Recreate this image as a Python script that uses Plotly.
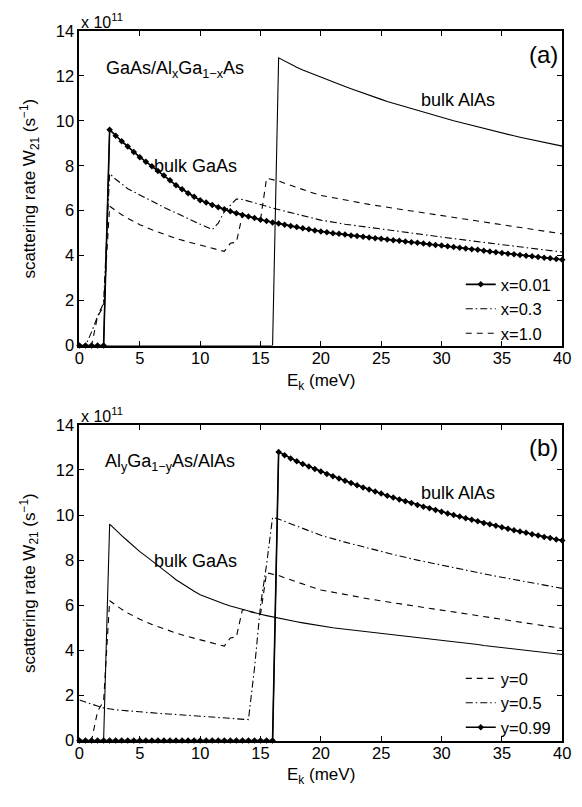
import plotly.graph_objects as go

# ---------------------------------------------------------------------------
# Intersubband scattering rate W21 versus in-plane kinetic energy E_k
# Values in units of 1e11 s^-1, energies in meV
# ---------------------------------------------------------------------------

# common energy grid (meV) for the bulk curves and the marked series
E_GRID = [0.0, 0.5, 1.0, 1.5, 2.0, 2.5, 3.0, 3.5, 4.0, 4.5, 5.0, 5.5, 6.0, 6.5,
          7.0, 7.5, 8.0, 8.5, 9.0, 9.5, 10.0, 10.5, 11.0, 11.5, 12.0, 12.5,
          13.0, 13.5, 14.0, 14.5, 15.0, 15.5, 16.0, 16.5, 17.0, 17.5, 18.0,
          18.5, 19.0, 19.5, 20.0, 20.5, 21.0, 21.5, 22.0, 22.5, 23.0, 23.5,
          24.0, 24.5, 25.0, 25.5, 26.0, 26.5, 27.0, 27.5, 28.0, 28.5, 29.0,
          29.5, 30.0, 30.5, 31.0, 31.5, 32.0, 32.5, 33.0, 33.5, 34.0, 34.5,
          35.0, 35.5, 36.0, 36.5, 37.0, 37.5, 38.0, 38.5, 39.0, 39.5, 40.0]

# bulk GaAs: threshold near 2 meV
W_BULK_GAAS = [0.0, 0.0, 0.0, 0.0, 0.0,
               9.60, 9.33, 9.09, 8.85, 8.61, 8.38, 8.18, 7.98, 7.77, 7.56,
               7.35, 7.13, 6.95, 6.78, 6.62, 6.47, 6.36, 6.25, 6.15, 6.06,
               5.97, 5.89, 5.81, 5.74, 5.67, 5.60, 5.54, 5.48, 5.43, 5.37,
               5.32, 5.27, 5.22, 5.17, 5.12, 5.07, 5.04, 5.00, 4.97, 4.94,
               4.90, 4.87, 4.84, 4.81, 4.78, 4.75, 4.72, 4.69, 4.66, 4.63,
               4.60, 4.57, 4.54, 4.51, 4.48, 4.45, 4.42, 4.39, 4.35, 4.32,
               4.29, 4.26, 4.22, 4.19, 4.15, 4.12, 4.09, 4.06, 4.03, 4.00,
               3.97, 3.94, 3.91, 3.88, 3.85, 3.82]

# bulk AlAs: threshold near 16 meV
W_BULK_ALAS = [0.0] * 33 + [
    12.80, 12.65, 12.51, 12.38, 12.26, 12.15, 12.04,
    11.93, 11.82, 11.72, 11.62, 11.52, 11.42, 11.32, 11.22, 11.13, 11.04,
    10.95, 10.86, 10.78, 10.69, 10.61, 10.53, 10.45, 10.37, 10.30, 10.22,
    10.15, 10.07, 10.00, 9.93, 9.86, 9.79, 9.72, 9.65, 9.59, 9.52,
    9.46, 9.39, 9.33, 9.27, 9.21, 9.15, 9.09, 9.03, 8.98, 8.92,
    8.87]

# (a) GaAs/AlxGa1-xAs, x = 0.01 follows bulk GaAs
W_X001 = list(W_BULK_GAAS)

# (a) x = 0.3
E_X03 = [0.0, 0.5, 1.0, 1.5, 2.0, 2.5, 3.0, 3.5, 4.0, 5.0, 6.0, 7.0, 8.0, 9.0,
         10.0, 11.0, 11.5, 12.0, 12.5, 13.0, 13.5, 14.0, 15.0, 16.0, 17.0,
         18.0, 19.0, 20.0, 22.0, 24.0, 26.0, 28.0, 30.0, 32.0, 34.0, 36.0,
         38.0, 40.0]
W_X03 = [0.0, 0.0, 0.6, 1.3, 1.9, 7.65, 7.40, 7.18, 6.98, 6.70, 6.42, 6.15,
         5.90, 5.64, 5.40, 5.16, 5.45, 5.95, 6.25, 6.52, 6.50, 6.42, 6.27,
         6.12, 5.98, 5.85, 5.72, 5.58, 5.40, 5.25, 5.11, 4.97, 4.83, 4.69,
         4.55, 4.41, 4.28, 4.16]

# x = 1.0 in (a), identical well to y = 0 in (b): GaAs/AlAs
E_X10 = [0.0, 0.5, 1.0, 1.5, 2.0, 2.5, 3.0, 3.5, 4.0, 5.0, 6.0, 7.0, 8.0, 9.0,
         10.0, 11.0, 12.0, 12.5, 13.0, 13.5, 14.0, 14.5, 15.0, 15.5, 16.0,
         16.5, 17.0, 18.0, 19.0, 20.0, 22.0, 24.0, 26.0, 28.0, 30.0, 32.0,
         34.0, 36.0, 38.0, 40.0]
W_X10 = [0.0, 0.0, 0.0, 1.3, 1.75, 6.20, 6.00, 5.82, 5.66, 5.38, 5.15, 4.95,
         4.77, 4.61, 4.46, 4.32, 4.19, 4.55, 4.60, 5.81, 5.74, 5.67, 5.60,
         7.44, 7.38, 7.32, 7.22, 7.02, 6.85, 6.68, 6.47, 6.28, 6.11, 5.95,
         5.79, 5.62, 5.45, 5.28, 5.12, 4.97]
E_Y0 = E_X10
W_Y0 = W_X10

# (b) AlyGa1-yAs/AlAs, y = 0.5
E_Y05 = [0.0, 0.5, 1.0, 1.5, 2.0, 2.5, 3.0, 4.0, 5.0, 6.0, 7.0, 8.0, 9.0,
         10.0, 11.0, 12.0, 13.0, 14.0, 14.5, 15.0, 15.5, 16.0, 16.5, 17.0,
         18.0, 19.0, 20.0, 22.0, 24.0, 26.0, 28.0, 30.0, 32.0, 34.0, 36.0,
         38.0, 40.0]
W_Y05 = [1.80, 1.70, 1.62, 1.53, 1.45, 1.40, 1.37, 1.32, 1.27, 1.23, 1.19,
         1.16, 1.12, 1.08, 1.04, 1.01, 0.97, 0.93, 3.20, 6.00, 7.80, 9.90,
         9.82, 9.72, 9.50, 9.30, 9.10, 8.80, 8.52, 8.25, 8.00, 7.77, 7.55,
         7.34, 7.14, 6.94, 6.75]

# (b) y = 0.99 follows bulk AlAs
W_Y099 = list(W_BULK_ALAS)

assert len(W_BULK_GAAS) == len(E_GRID)
assert len(W_BULK_ALAS) == len(E_GRID)
assert len(W_X03) == len(E_X03)
assert len(W_X10) == len(E_X10)
assert len(W_Y05) == len(E_Y05)

X_TICKS = [0, 5, 10, 15, 20, 25, 30, 35, 40]
Y_TICKS = [0, 2, 4, 6, 8, 10, 12, 14]

# ---------------------------------------------------------------------------
FIG_W, FIG_H = 582, 807
FONT = "Liberation Sans, Arial, Helvetica, sans-serif"
TXT = 18


def px_x(px):
    return px / FIG_W


def px_y(py):
    return 1 - py / FIG_H


X_DOM = [px_x(76.3), px_x(571)]
Y_DOM_A = [px_y(344.3), px_y(22.3)]
Y_DOM_B = [px_y(748.3), px_y(425.3)]

DASH = "6px,5px"
DASHDOT = "7px,3px,1.5px,3px"

fig = go.Figure()


def line(x, y, xa, ya, dash="solid", width=1.1, name=None, legend=None,
         rank=None, markers=False):
    kw = dict(x=x, y=y, xaxis=xa, yaxis=ya,
              line=dict(color="black", width=width, dash=dash),
              cliponaxis=False, hoverinfo="skip")
    if markers:
        kw["mode"] = "lines+markers"
        kw["marker"] = dict(symbol="diamond", size=5, color="black")
    else:
        kw["mode"] = "lines"
    if name is None:
        kw["showlegend"] = False
    else:
        kw["name"] = name
        kw["legend"] = legend
        kw["legendrank"] = rank
    fig.add_trace(go.Scatter(**kw))


# panel (a)
line(E_GRID, W_BULK_GAAS, "x", "y")
line(E_GRID, W_BULK_ALAS, "x", "y")
line(E_X10, W_X10, "x", "y", dash=DASH, name="x=1.0", legend="legend", rank=3)
line(E_X03, W_X03, "x", "y", dash=DASHDOT, name="x=0.3", legend="legend", rank=2)
line(E_GRID, W_X001, "x", "y", width=1.6, name="x=0.01", legend="legend",
     rank=1, markers=True)

# panel (b)
line(E_GRID, W_BULK_GAAS, "x2", "y2")
line(E_GRID, W_BULK_ALAS, "x2", "y2")
line(E_Y0, W_Y0, "x2", "y2", dash=DASH, name="y=0", legend="legend2", rank=1)
line(E_Y05, W_Y05, "x2", "y2", dash=DASHDOT, name="y=0.5", legend="legend2",
     rank=2)
line(E_GRID, W_Y099, "x2", "y2", width=1.6, name="y=0.99", legend="legend2",
     rank=3, markers=True)

axis_common = dict(
    showline=True, linewidth=2, linecolor="black", mirror="ticks",
    ticks="inside", ticklen=5, tickwidth=1, tickcolor="black",
    showgrid=False, zeroline=False,
    tickfont=dict(family=FONT, size=16.5, color="black"),
)

legend_common = dict(xanchor="left", yanchor="top",
                     bgcolor="rgba(0,0,0,0)", borderwidth=0,
                     font=dict(family=FONT, size=16.5, color="black"),
                     tracegroupgap=0)

fig.update_layout(
    width=FIG_W, height=FIG_H,
    margin=dict(l=0, r=0, t=0, b=0),
    paper_bgcolor="white", plot_bgcolor="white",
    font=dict(family=FONT, size=TXT, color="black"),
    xaxis=dict(domain=X_DOM, range=[0, 40], tickvals=X_TICKS, anchor="y",
               ticklabelstandoff=-3, **axis_common),
    yaxis=dict(domain=Y_DOM_A, range=[0, 14], tickvals=Y_TICKS, anchor="x",
               **axis_common),
    xaxis2=dict(domain=X_DOM, range=[0, 40], tickvals=X_TICKS, anchor="y2",
                ticklabelstandoff=-3, **axis_common),
    yaxis2=dict(domain=Y_DOM_B, range=[0, 14], tickvals=Y_TICKS, anchor="x2",
                **axis_common),
    legend=dict(x=px_x(467), y=px_y(264), **legend_common),
    legend2=dict(x=px_x(467), y=px_y(667), **legend_common),
)

ann = []
# in-plot labels (data coordinates)
for xr, yr, x, y, text, anchor, size in [
    ("x", "y", 2.0, 12.3, "GaAs/Al<sub>x</sub>Ga<sub>1\u2212x</sub>As", "left", TXT),
    ("x", "y", 6.0, 8.0, "bulk GaAs", "left", TXT),
    ("x", "y", 28.1, 10.94, "bulk AlAs", "left", TXT),
    ("x", "y", 39.8, 12.94, "(a)", "right", 24),
    ("x2", "y2", 1.92, 12.32, "Al<sub>y</sub>Ga<sub>1\u2212y</sub>As/AlAs", "left", TXT),
    ("x2", "y2", 6.0, 7.98, "bulk GaAs", "left", TXT),
    ("x2", "y2", 28.1, 10.98, "bulk AlAs", "left", TXT),
    ("x2", "y2", 39.8, 13.0, "(b)", "right", 24),
]:
    ann.append(dict(xref=xr, yref=yr, x=x, y=y, text=text, showarrow=False,
                    xanchor=anchor, yanchor="middle",
                    font=dict(family=FONT, size=size, color="black")))

# axis titles and exponent labels (paper coordinates)
for cy_axis, cy_title, cy_exp in [(183.3, 382, 12), (586.8, 785, 415)]:
    ann.append(dict(xref="paper", yref="paper", x=px_x(25), y=px_y(cy_axis),
                    text="scattering rate W<sub>21</sub> (s<sup>\u22121</sup>)",
                    textangle=-90, showarrow=False, xanchor="center",
                    yanchor="middle",
                    font=dict(family=FONT, size=17, color="black")))
    ann.append(dict(xref="paper", yref="paper", x=px_x(323.6), y=px_y(cy_title),
                    text="E<sub>k</sub> (meV)", showarrow=False,
                    xanchor="center", yanchor="middle",
                    font=dict(family=FONT, size=17, color="black")))
    ann.append(dict(xref="paper", yref="paper", x=px_x(76), y=px_y(cy_exp),
                    text="x 10<sup>11</sup>", showarrow=False,
                    xanchor="left", yanchor="middle",
                    font=dict(family=FONT, size=16, color="black")))

fig.update_layout(annotations=ann)

fig.write_html("out.html")
